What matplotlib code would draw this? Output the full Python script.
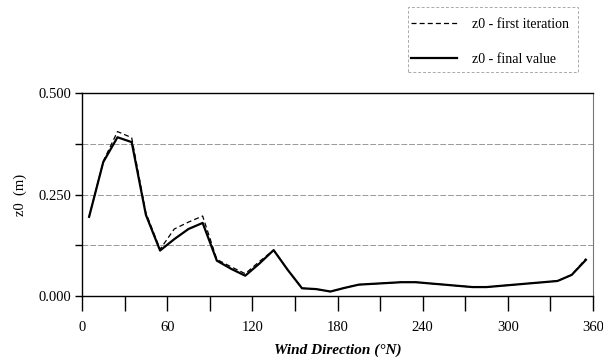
import matplotlib
matplotlib.use("Agg")
import matplotlib.pyplot as plt
from matplotlib.patches import Rectangle
import numpy as np

direction = [5, 15, 25, 35, 45, 55, 65, 75, 85, 95, 105, 115, 125, 135, 145,
             155, 165, 175, 185, 195, 205, 215, 225, 235, 245, 255, 265, 275,
             285, 295, 305, 315, 325, 335, 345, 355]
z0_final = [0.195, 0.330, 0.391, 0.379, 0.200, 0.112, 0.140, 0.165, 0.180, 0.087,
            0.067, 0.050, 0.080, 0.113, 0.064, 0.019, 0.017, 0.011, 0.020, 0.028,
            0.030, 0.032, 0.034, 0.034, 0.031, 0.028, 0.025, 0.022, 0.022, 0.025,
            0.028, 0.031, 0.034, 0.037, 0.052, 0.089]
z0_first = [0.195, 0.332, 0.405, 0.390, 0.205, 0.115, 0.165, 0.182, 0.197, 0.090,
            0.072, 0.055, 0.085, 0.113, 0.064, 0.019, 0.017, 0.011, 0.020, 0.028,
            0.030, 0.032, 0.034, 0.034, 0.031, 0.028, 0.025, 0.022, 0.022, 0.025,
            0.028, 0.031, 0.034, 0.037, 0.052, 0.092]
x_major = [0, 60, 120, 180, 240, 300, 360]
y_major = [0.0, 0.25, 0.5]
y_labels = ["0.000", "0.250", "0.500"]

plt.rcParams['font.family'] = ['Liberation Serif', 'DejaVu Serif']

fig = plt.figure(figsize=(6.03, 3.58), dpi=100)
ax = fig.add_axes([82/603, 1-296/358, (593-82)/603, (296-93)/358])

ax.plot(direction, z0_first, color='black', lw=0.9, ls=(0, (4, 2.5)), label='z0 - first iteration')
ax.plot(direction, z0_final, color='black', lw=1.6, label='z0 - final value')

ax.set_xlim(0, 360)
ax.set_ylim(0, 0.5)
ax.set_xticks(x_major)
ax.set_xticks(np.arange(0, 361, 30), minor=True)
ax.set_yticks(y_major)
ax.set_yticklabels(y_labels)
ax.set_yticks([0.125, 0.375], minor=True)
ax.tick_params(axis='x', which='both', direction='out', length=11, width=1, pad=7, labelsize=10.5)
ax.tick_params(axis='y', which='both', direction='out', length=5, width=1, pad=3, labelsize=10.5)
for y in [0.125, 0.25, 0.375]:
    ax.axhline(y, color='#999999', lw=0.7, ls=(0, (6, 2)), zorder=0)

for s in ['left', 'bottom', 'top']:
    ax.spines[s].set_linewidth(1.0)
    ax.spines[s].set_color('black')
ax.spines['right'].set_color('#777777')
ax.spines['right'].set_linewidth(0.8)

ax.set_ylabel('z0  (m)', fontsize=10.5, labelpad=8)
ax.set_xlabel('Wind Direction (°N)', fontsize=11, style='italic', weight='bold', labelpad=7)

leg = fig.legend(loc='upper left', bbox_to_anchor=(404/603, 1-11/358), frameon=False,
                 fontsize=10, handlelength=3.3, labelspacing=1.6, borderpad=0.0,
                 handletextpad=1.1)
fig.patches.append(Rectangle((408/603, 1-72/358), (578-408)/603, (72-7)/358,
                             transform=fig.transFigure, fill=False, edgecolor='#aaaaaa',
                             lw=0.7, ls=(0, (3, 2))))

fig.savefig('out.png', dpi=100)
